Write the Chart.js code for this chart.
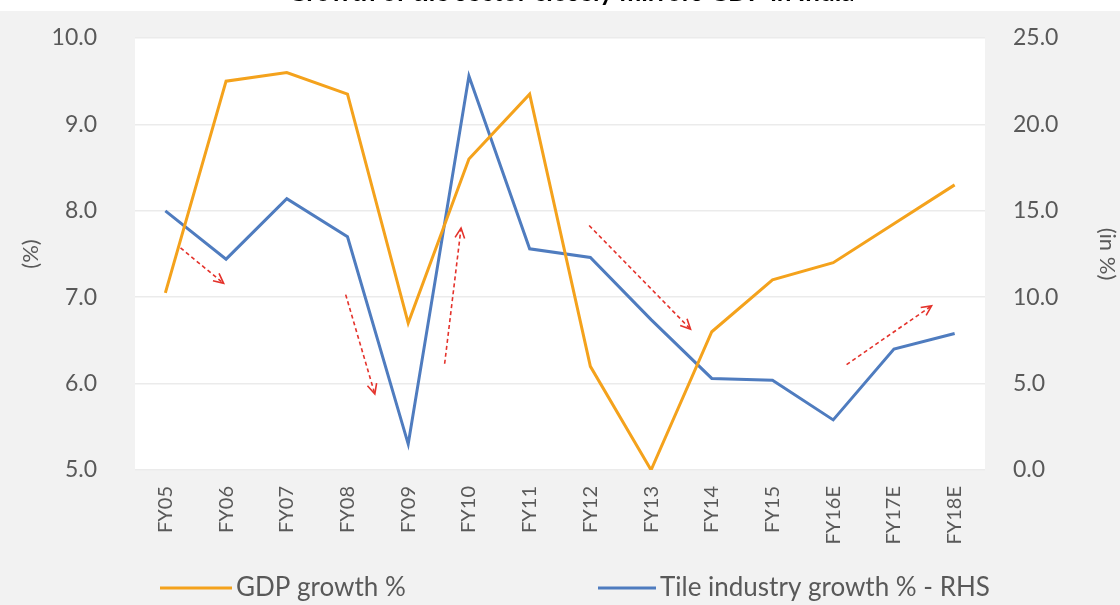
<!DOCTYPE html>
<html>
<head>
<meta charset="utf-8">
<script src="https://cdn.jsdelivr.net/npm/chart.js@4"></script>
<style>
  html, body { margin: 0; padding: 0; background: #f2f2f2; }
  #wrap { width: 1120px; height: 605px; }
</style>
</head>
<body>
<div id="wrap"><canvas id="chart"></canvas></div>
<script>
const years = ['FY05', 'FY06', 'FY07', 'FY08', 'FY09', 'FY10', 'FY11', 'FY12', 'FY13', 'FY14', 'FY15', 'FY16E', 'FY17E', 'FY18E'];
const gdpGrowth = [7.05, 9.5, 9.6, 9.35, 6.7, 8.6, 9.35, 6.2, 5.0, 6.6, 7.2, 7.4, 7.85, 8.3];
const tileGrowth = [15.0, 12.2, 15.7, 13.5, 1.5, 22.8, 12.8, 12.3, 8.7, 5.3, 5.2, 2.9, 7.0, 7.9];
const leftTicks = { min: 5, max: 10, step: 1 };
const rightTicks = { min: 0, max: 25, step: 5 };

// trend arrows: [fromIndex, fromValue, toIndex, toValue] on the left axis
const trendArrows = [
    [0.25, 7.57, 0.96, 7.16],
    [2.97, 7.03, 3.45, 5.88],
    [4.60, 6.23, 4.87, 7.80],
    [6.98, 7.83, 8.65, 6.63],
    [11.22, 6.22, 12.62, 6.90]
];

const titleText = 'Growth of tile sector closely mirrors GDP in India';
const fontFamily = 'Lato, "Open Sans", sans-serif';
const textGrey = '#595959';

const backdrop = {
    id: 'backdrop',
    beforeDraw(chart) {
        const { ctx, chartArea: a, width, height } = chart;
        ctx.save();
        ctx.fillStyle = '#f2f2f2';
        ctx.fillRect(0, 0, width, height);
        ctx.fillStyle = '#ffffff';
        ctx.fillRect(0, 0, width, 11);
        ctx.fillRect(a.left, a.top, a.right - a.left, a.bottom - a.top);
        // title, mostly cut off by the top edge like in the source image
        ctx.fillStyle = '#000';
        ctx.font = 'bold 26px ' + fontFamily;
        ctx.textAlign = 'center';
        ctx.textBaseline = 'alphabetic';
        ctx.fillText(titleText, 571, 1);
        ctx.restore();
    }
};

const arrows = {
    id: 'arrows',
    afterDatasetsDraw(chart) {
        const { ctx } = chart;
        const x = chart.scales.x, y = chart.scales.y;
        ctx.save();
        ctx.strokeStyle = '#e4322b';
        ctx.lineWidth = 1.6;
        trendArrows.forEach(([i0, v0, i1, v1]) => {
            const x0 = x.getPixelForValue(i0), y0 = y.getPixelForValue(v0);
            const x1 = x.getPixelForValue(i1), y1 = y.getPixelForValue(v1);
            ctx.setLineDash([4, 3]);
            ctx.beginPath();
            ctx.moveTo(x0, y0);
            ctx.lineTo(x1, y1);
            ctx.stroke();
            const ang = Math.atan2(y1 - y0, x1 - x0);
            ctx.setLineDash([]);
            ctx.beginPath();
            ctx.moveTo(x1 - 11 * Math.cos(ang - 0.45), y1 - 11 * Math.sin(ang - 0.45));
            ctx.lineTo(x1, y1);
            ctx.lineTo(x1 - 11 * Math.cos(ang + 0.45), y1 - 11 * Math.sin(ang + 0.45));
            ctx.stroke();
        });
        ctx.restore();
    }
};

const bottomLegend = {
    id: 'bottomLegend',
    afterDraw(chart) {
        const { ctx } = chart;
        const starts = [160, 598];
        const lineLen = [72, 58];
        ctx.save();
        ctx.font = '26px ' + fontFamily;
        ctx.textBaseline = 'middle';
        ctx.textAlign = 'left';
        chart.data.datasets.forEach((ds, i) => {
            const yy = 588;
            ctx.strokeStyle = ds.borderColor;
            ctx.lineWidth = 3;
            ctx.beginPath();
            ctx.moveTo(starts[i], yy);
            ctx.lineTo(starts[i] + lineLen[i], yy);
            ctx.stroke();
            ctx.fillStyle = textGrey;
            ctx.fillText(ds.label, starts[i] + lineLen[i] + 4, yy);
        });
        ctx.restore();
    }
};

new Chart(document.getElementById('chart'), {
    type: 'line',
    data: {
        labels: years,
        datasets: [
            {
                label: 'GDP growth %',
                data: gdpGrowth,
                yAxisID: 'y',
                borderColor: '#f4a21c',
                borderWidth: 3,
                pointRadius: 0,
                tension: 0
            },
            {
                label: 'Tile industry growth % - RHS',
                data: tileGrowth,
                yAxisID: 'y1',
                borderColor: '#4f7cbf',
                borderWidth: 3,
                pointRadius: 0,
                tension: 0
            }
        ]
    },
    options: {
        responsive: true,
        maintainAspectRatio: false,
        animation: false,
        layout: { padding: { top: 38, bottom: 45, left: 0, right: 0 } },
        plugins: {
            legend: { display: false },
            tooltip: { enabled: false }
        },
        scales: {
            x: {
                offset: true,
                grid: { display: false },
                border: { display: false },
                ticks: {
                    color: textGrey,
                    font: { family: fontFamily, size: 20 },
                    minRotation: 90,
                    maxRotation: 90,
                    autoSkip: false,
                    padding: 8
                },
                afterFit(scale) { scale.height = 90; }
            },
            y: {
                position: 'left',
                min: leftTicks.min,
                max: leftTicks.max,
                grid: { color: '#ebebeb', lineWidth: 1.5, tickLength: 38, tickColor: 'rgba(0,0,0,0)' },
                border: { display: false },
                ticks: {
                    stepSize: leftTicks.step,
                    color: textGrey,
                    font: { family: fontFamily, size: 23 },
                    padding: 0,
                    callback: v => v.toFixed(1)
                },
                title: {
                    display: true,
                    text: '(%)',
                    color: textGrey,
                    font: { family: fontFamily, size: 22 },
                    padding: { top: 18, bottom: 0 }
                },
                afterFit(scale) { scale.width = 135; }
            },
            y1: {
                position: 'right',
                min: rightTicks.min,
                max: rightTicks.max,
                grid: { drawOnChartArea: false, tickLength: 28, tickColor: 'rgba(0,0,0,0)' },
                border: { display: false },
                ticks: {
                    stepSize: rightTicks.step,
                    color: textGrey,
                    font: { family: fontFamily, size: 23 },
                    padding: 0,
                    callback: v => v.toFixed(1)
                },
                title: {
                    display: true,
                    text: '(in %)',
                    color: textGrey,
                    font: { family: fontFamily, size: 22 },
                    padding: { top: 0, bottom: 0 }
                },
                afterFit(scale) { scale.width = 135; }
            }
        }
    },
    plugins: [backdrop, arrows, bottomLegend]
});
</script>
</body>
</html>
